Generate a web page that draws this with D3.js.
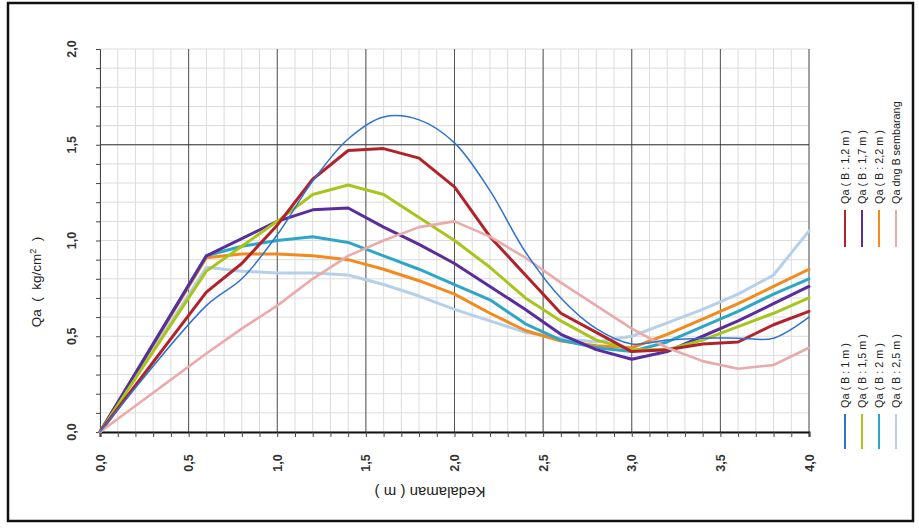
<!DOCTYPE html>
<html>
<head>
<meta charset="utf-8">
<script src="https://cdn.jsdelivr.net/npm/d3@7"></script>
<style>
  body { margin: 0; background: #fff; }
  svg { display: block; font-family: "Liberation Sans", Arial, sans-serif; }
</style>
</head>
<body>
<div id="chart"></div>
<script>
// depth (m) shared by every series
const depth = [0, 0.6, 0.8, 1.0, 1.2, 1.4, 1.6, 1.8, 2.0, 2.2, 2.4, 2.6, 2.8, 3.0, 3.2, 3.4, 3.6, 3.8, 4.0];

// Qa (kg/cm2)
const qaB1   = [0, 0.66, 0.80, 1.03, 1.31, 1.53, 1.645, 1.63, 1.51, 1.26, 0.94, 0.70, 0.54, 0.46, 0.48, 0.49, 0.49, 0.49, 0.60];
const qaB12  = [0, 0.73, 0.88, 1.08, 1.32, 1.47, 1.48, 1.43, 1.28, 1.02, 0.82, 0.62, 0.52, 0.42, 0.43, 0.46, 0.47, 0.56, 0.63];
const qaB15  = [0, 0.84, 0.97, 1.10, 1.24, 1.29, 1.24, 1.12, 1.00, 0.86, 0.70, 0.58, 0.48, 0.43, 0.43, 0.48, 0.55, 0.62, 0.70];
const qaB17  = [0, 0.92, 1.01, 1.10, 1.16, 1.17, 1.07, 0.98, 0.88, 0.76, 0.64, 0.51, 0.43, 0.38, 0.42, 0.50, 0.58, 0.67, 0.76];
const qaB2   = [0, 0.92, 0.97, 1.00, 1.02, 0.99, 0.92, 0.85, 0.77, 0.69, 0.565, 0.48, 0.44, 0.42, 0.47, 0.55, 0.63, 0.72, 0.80];
const qaB22  = [0, 0.91, 0.93, 0.93, 0.92, 0.90, 0.85, 0.79, 0.72, 0.62, 0.53, 0.475, 0.45, 0.44, 0.51, 0.59, 0.67, 0.76, 0.85];
const qaB25  = [0, 0.86, 0.84, 0.83, 0.83, 0.82, 0.77, 0.71, 0.64, 0.58, 0.52, 0.49, 0.47, 0.50, 0.57, 0.64, 0.72, 0.82, 1.05];
const qaAny  = [0, 0.41, 0.54, 0.66, 0.80, 0.92, 1.00, 1.07, 1.10, 1.02, 0.91, 0.78, 0.66, 0.54, 0.44, 0.37, 0.33, 0.35, 0.44];

const xTicks = [0, 0.5, 1.0, 1.5, 2.0, 2.5, 3.0, 3.5, 4.0];
const xTickLabels = ["0,0", "0,5", "1,0", "1,5", "2,0", "2,5", "3,0", "3,5", "4,0"];
const yTicks = [0, 0.5, 1.0, 1.5, 2.0];
const yTickLabels = ["0,0", "0,5", "1,0", "1,5", "2,0"];

const legendTop = ["Qa ( B : 1,2 m )", "Qa ( B : 1,7 m )", "Qa ( B : 2,2 m )", "Qa dng B sembarang"];
const legendBottom = ["Qa ( B : 1 m )", "Qa ( B : 1,5 m )", "Qa ( B : 2 m )", "Qa ( B : 2,5 m )"];

const W = 919, H = 528;
const svg = d3.select('#chart').append('svg')
  .attr('width', W)
  .attr('height', H);

svg.append('rect')
  .attr('width', W).attr('height', H)
  .attr('fill', '#fff');

// outer frame
svg.append('rect')
  .attr('x', 8).attr('y', 3)
  .attr('width', 905).attr('height', 518)
  .attr('fill', 'none')
  .attr('stroke', '#111')
  .attr('stroke-width', 2.5);

const x = d3.scaleLinear().domain([0, 4]).range([100, 809]);
const y = d3.scaleLinear().domain([0, 2]).range([432, 49]);

const minor = d3.range(0, 41).map(i => i / 10);
const minorY = d3.range(0, 21).map(i => i / 10);

const grid = svg.append('g');
// minor grid
grid.selectAll('line.vx').data(minor).enter().append('line')
  .attr('x1', d => x(d)).attr('x2', d => x(d))
  .attr('y1', y(2)).attr('y2', y(0))
  .attr('stroke', '#dcdcdc').attr('stroke-width', 1);
grid.selectAll('line.hy').data(minorY).enter().append('line')
  .attr('x1', x(0)).attr('x2', x(4))
  .attr('y1', d => y(d)).attr('y2', d => y(d))
  .attr('stroke', '#dcdcdc').attr('stroke-width', 1);
// major vertical grid
grid.selectAll('line.mx').data(xTicks.slice(1)).enter().append('line')
  .attr('x1', d => x(d)).attr('x2', d => x(d))
  .attr('y1', y(2)).attr('y2', y(0))
  .attr('stroke', '#555').attr('stroke-width', 1);
// the one dark horizontal line
grid.append('line')
  .attr('x1', x(0)).attr('x2', x(4))
  .attr('y1', y(1.5)).attr('y2', y(1.5))
  .attr('stroke', '#333').attr('stroke-width', 1.2);

// axes (ticks only, labels added below rotated)
svg.append('g')
  .attr('transform', `translate(0,${y(0)})`)
  .call(d3.axisBottom(x).tickValues(minor).tickSize(5).tickFormat(''))
  .call(g => g.select('.domain').attr('stroke', '#111').attr('stroke-width', 2));
svg.append('g')
  .attr('transform', `translate(${x(0)},0)`)
  .call(d3.axisLeft(y).tickValues(minorY).tickSize(4).tickFormat(''))
  .call(g => g.select('.domain').attr('stroke', '#444').attr('stroke-width', 1));
svg.selectAll('.tick line').attr('stroke', '#444');

// tick labels
svg.selectAll('text.xl').data(xTicks).enter().append('text')
  .attr('transform', d => `translate(${x(d) + 4.5},463) rotate(-90)`)
  .attr('text-anchor', 'middle')
  .attr('font-size', 12.5)
  .attr('font-weight', 'bold')
  .attr('fill', '#333')
  .text((d, i) => xTickLabels[i]);
svg.selectAll('text.yl').data(yTicks).enter().append('text')
  .attr('transform', d => `translate(76,${y(d)}) rotate(-90)`)
  .attr('text-anchor', 'middle')
  .attr('font-size', 12.5)
  .attr('font-weight', 'bold')
  .attr('fill', '#333')
  .text((d, i) => yTickLabels[i]);

// axis titles
svg.append('text')
  .attr('transform', 'translate(430,487) rotate(180)')
  .attr('text-anchor', 'middle')
  .attr('font-size', 15)
  .attr('fill', '#222')
  .text('Kedalaman  ( m )');
const yt = svg.append('text')
  .attr('transform', 'translate(41,282) rotate(-90)')
  .attr('text-anchor', 'middle')
  .attr('font-size', 13.5)
  .attr('fill', '#222')
  .attr('xml:space', 'preserve')
  .style('white-space', 'pre');
yt.append('tspan').text('Qa  (  kg/cm');
yt.append('tspan').attr('dy', -5).attr('font-size', 9).text('2');
yt.append('tspan').attr('dy', 5).text('  )');

// series
const series = [
  { name: legendBottom[3], values: qaB25, color: '#b7d0ea', width: 3 },
  { name: legendTop[2],    values: qaB22, color: '#f28a1e', width: 3 },
  { name: legendBottom[2], values: qaB2,  color: '#2ea6c8', width: 3 },
  { name: legendTop[1],    values: qaB17, color: '#5a2c9c', width: 3 },
  { name: legendBottom[1], values: qaB15, color: '#a9c41c', width: 3 },
  { name: legendTop[0],    values: qaB12, color: '#b1232a', width: 3 },
  { name: legendTop[3],    values: qaAny, color: '#eaaaaa', width: 2.6 },
  { name: legendBottom[0], values: qaB1,  color: '#2f72cf', width: 1.5, smooth: true }
];

const lineLinear = d3.line()
  .x((d, i) => x(depth[i]))
  .y(d => y(d));
const lineSmooth = d3.line()
  .x((d, i) => x(depth[i]))
  .y(d => y(d))
  .curve(d3.curveCatmullRom.alpha(0.5));

svg.append('g').selectAll('path').data(series).enter().append('path')
  .attr('d', s => (s.smooth ? lineSmooth : lineLinear)(s.values))
  .attr('fill', 'none')
  .attr('stroke', s => s.color)
  .attr('stroke-width', s => s.width)
  .attr('stroke-linejoin', 'round')
  .attr('stroke-linecap', 'round');

// legend (rotated, two groups)
const colorOf = name => series.find(s => s.name === name).color;
const legendX = [845, 862, 879, 896];

function drawLegend(names, lineTop, lineBottom) {
  const g = svg.append('g');
  names.forEach((n, i) => {
    g.append('line')
      .attr('x1', legendX[i]).attr('x2', legendX[i])
      .attr('y1', lineTop).attr('y2', lineBottom)
      .attr('stroke', colorOf(n))
      .attr('stroke-width', 2);
    g.append('text')
      .attr('transform', `translate(${legendX[i] + 4},${lineTop - 6}) rotate(-90)`)
      .attr('font-size', 10.8)
      .attr('fill', '#222')
      .text(n);
  });
}
drawLegend(legendTop, 210, 247);
drawLegend(legendBottom, 414, 449);
</script>
</body>
</html>
